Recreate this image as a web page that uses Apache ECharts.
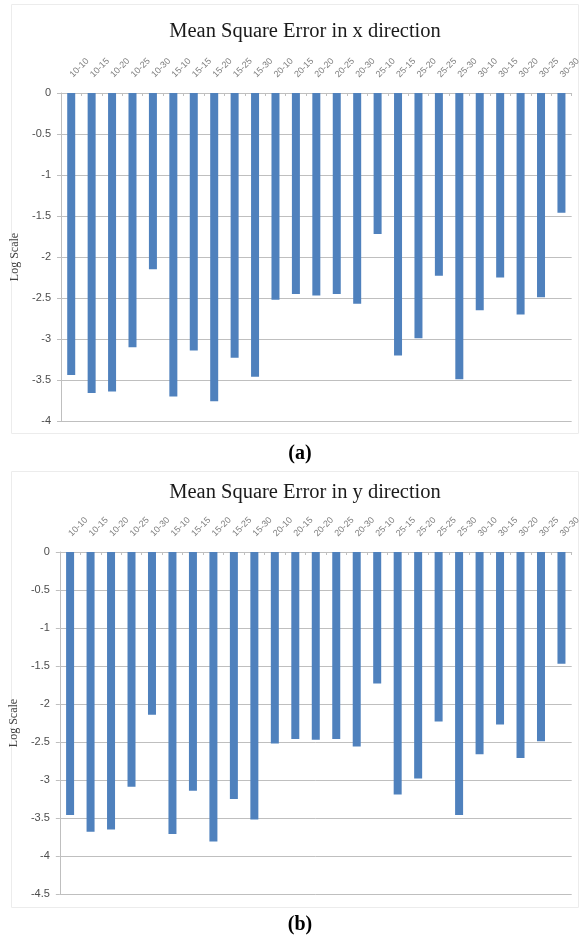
<!DOCTYPE html>
<html>
<head>
<meta charset="utf-8">
<script src="https://cdn.jsdelivr.net/npm/echarts@6/dist/echarts.min.js"></script>
<style>
html,body{margin:0;padding:0;background:#fff;}
#c{width:583px;height:937px;}
</style>
</head>
<body>
<div id="c"></div>
<script>
const categories = ['10-10','10-15','10-20','10-25','10-30','15-10','15-15','15-20','15-25','15-30','20-10','20-15','20-20','20-25','20-30','25-10','25-15','25-20','25-25','25-30','30-10','30-15','30-20','30-25','30-30'];
const mseX = [-3.44,-3.66,-3.64,-3.10,-2.15,-3.70,-3.14,-3.76,-3.23,-3.46,-2.52,-2.45,-2.47,-2.45,-2.57,-1.72,-3.20,-2.99,-2.23,-3.49,-2.65,-2.25,-2.70,-2.49,-1.46];
const mseY = [-3.46,-3.68,-3.65,-3.09,-2.14,-3.71,-3.14,-3.81,-3.25,-3.52,-2.52,-2.46,-2.47,-2.46,-2.56,-1.73,-3.19,-2.98,-2.23,-3.46,-2.66,-2.27,-2.71,-2.49,-1.47];
const titleA = 'Mean Square Error in x direction';
const titleB = 'Mean Square Error in y direction';
const yNameText = 'Log Scale';
const yMinA = -4, yMinB = -4.5, yMax = 0, yStep = 0.5;

const chart = echarts.init(document.getElementById('c'), null, {renderer:'canvas'});
const gridCol = '#bfbfbf';
function xAxisFor(i){
  return {
    type:'category', gridIndex:i, data:categories, position:'top',
    axisLine:{show:true, lineStyle:{color:gridCol, width:1}},
    axisTick:{show:true, inside:true, length:3, lineStyle:{color:gridCol}},
    axisLabel:{rotate:45, fontSize:9, color:'#7f7f7f', margin:17, fontFamily:'Liberation Sans', interval:0}
  };
}
function yAxisFor(i, mn){
  return {
    type:'value', gridIndex:i, min:mn, max:yMax, interval:yStep,
    name:yNameText, nameLocation:'middle', nameGap:34,
    nameTextStyle:{fontFamily:'Liberation Serif', fontSize:12, color:'#404040'},
    axisLine:{show:true, lineStyle:{color:gridCol}},
    axisTick:{show:true, length:4, lineStyle:{color:gridCol}},
    axisLabel:{fontSize:11, color:'#4d4d4d', fontFamily:'Liberation Sans', margin:10},
    splitLine:{show:true, lineStyle:{color:gridCol, width:1}}
  };
}
const titleStyle = {fontFamily:'Liberation Serif', fontSize:20.5, fontWeight:'normal', color:'#1a1a1a'};
const capStyle = {fontFamily:'Liberation Serif', fontSize:20, fontWeight:'bold', color:'#000'};
chart.setOption({
  animation:false,
  title:[
    {text:titleA, left:300, top:16, textAlign:'center', textStyle:titleStyle},
    {text:titleB, left:300, top:477, textAlign:'center', textStyle:titleStyle},
    {text:'(a)', left:295, top:439, textAlign:'center', textStyle:capStyle},
    {text:'(b)', left:295, top:910, textAlign:'center', textStyle:capStyle}
  ],
  graphic:[
    {type:'rect', shape:{x:11.5, y:4.5, width:567, height:429}, style:{fill:'none', stroke:'#ececec', lineWidth:1}, silent:true, z:-1},
    {type:'rect', shape:{x:11.5, y:471.5, width:567, height:436}, style:{fill:'none', stroke:'#ececec', lineWidth:1}, silent:true, z:-1}
  ],
  grid:[
    {left:61, top:93, right:10, height:328},
    {left:59, top:552, right:10, height:342}
  ],
  xAxis:[xAxisFor(0), xAxisFor(1)],
  yAxis:[yAxisFor(0, yMinA), yAxisFor(1, yMinB)],
  series:[
    {type:'bar', xAxisIndex:0, yAxisIndex:0, data:mseX, barWidth:8, itemStyle:{color:'#4f81bd'}},
    {type:'bar', xAxisIndex:1, yAxisIndex:1, data:mseY, barWidth:8, itemStyle:{color:'#4f81bd'}}
  ]
});
</script>
</body>
</html>
